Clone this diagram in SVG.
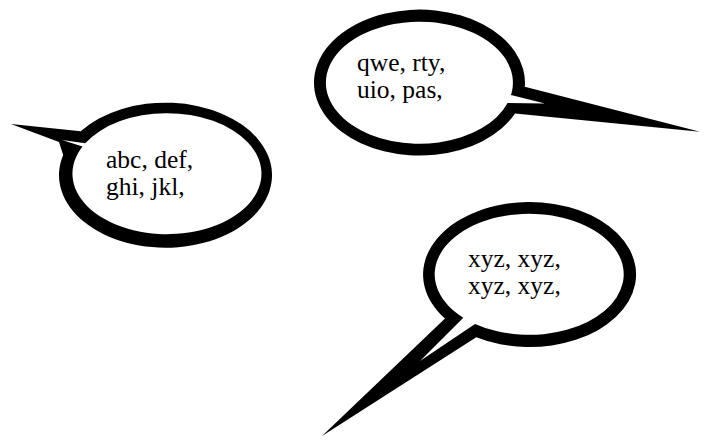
<svg xmlns="http://www.w3.org/2000/svg" width="704" height="445" viewBox="0 0 704 445">
<style>
.outer{fill:#000;stroke:none}
.inner{fill:#fff;stroke:none}
text{fill:#000}
</style>
<rect width="704" height="445" fill="#fff"/>
<g id="bubble-abc">
<path class="outer" d="M11,124 L80.7,131.3 A106.5,72.5 0 1 1 63.2,155 L59,142 Z"/>
<path class="inner" d="M62,140 L85.2,143.3 A94.5,60.5 0 1 1 82.5,146.5 Z"/>
<text x="106" y="168" font-family="'Liberation Serif', 'Times New Roman', serif" font-size="25.5">abc, def,</text>
<text x="106" y="195" font-family="'Liberation Serif', 'Times New Roman', serif" font-size="25.5">ghi, jkl,</text>
</g>
<g id="bubble-qwe">
<path class="outer" d="M700,131.7 L524.8,86.8 A105.5,73 0 1 0 515,113.6 Z"/>
<path class="inner" d="M545,103.5 L511,95 A93.5,61 0 1 0 507.6,103 Z"/>
<text x="357" y="71" font-family="'Liberation Serif', 'Times New Roman', serif" font-size="25.5">qwe, rty,</text>
<text x="357" y="98" font-family="'Liberation Serif', 'Times New Roman', serif" font-size="25.5">uio, pas,</text>
</g>
<g id="bubble-xyz">
<path class="outer" d="M322,436 L445,318.6 A106.5,72.5 0 1 1 476.25,337.3 Z"/>
<path class="inner" d="M420,361 L463.3,317.7 A94.5,60.5 0 1 1 475,323.9 Z"/>
<text x="468" y="266.5" font-family="'Liberation Serif', 'Times New Roman', serif" font-size="25.5">xyz, xyz,</text>
<text x="468" y="293.5" font-family="'Liberation Serif', 'Times New Roman', serif" font-size="25.5">xyz, xyz,</text>
</g>
<g id="connectors"/>
</svg>
